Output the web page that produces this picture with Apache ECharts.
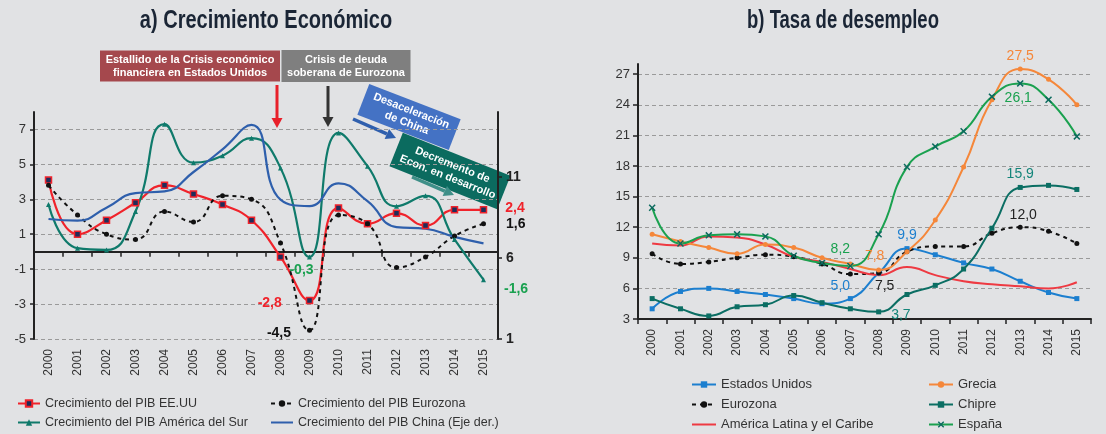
<!DOCTYPE html>
<html>
<head>
<meta charset="utf-8">
<script src="https://cdn.jsdelivr.net/npm/echarts@6/dist/echarts.min.js"></script>
<style>
  html, body { margin: 0; padding: 0; background: #e1e2e4; }
  #main { width: 1106px; height: 434px; }
</style>
</head>
<body>
<div id="main"></div>
<script>
const years = ['2000', '2001', '2002', '2003', '2004', '2005', '2006', '2007',
  '2008', '2009', '2010', '2011', '2012', '2013', '2014', '2015']

// a) Crecimiento Económico (%)
const pibEEUU = [4.1, 1.0, 1.8, 2.8, 3.8, 3.3, 2.7, 1.8, -0.3, -2.8, 2.5, 1.6, 2.2, 1.5, 2.4, 2.4]
const pibEurozona = [3.8, 2.1, 1.0, 0.7, 2.3, 1.7, 3.2, 3.0, 0.5, -4.5, 2.1, 1.6, -0.9, -0.3, 0.9, 1.6]
const pibAmSur = [2.7, 0.2, 0.1, 2.3, 7.3, 5.1, 5.5, 6.5, 4.8, -0.3, 6.8, 4.9, 2.6, 3.2, 0.7, -1.6]
const pibChina = [8.4, 8.3, 9.1, 10.0, 10.1, 11.3, 12.7, 14.2, 9.6, 9.2, 10.6, 9.5, 7.9, 7.8, 7.3, 6.9]

// b) Tasa de desempleo (%)
const desEEUU = [4.0, 5.7, 6.0, 5.7, 5.4, 5.0, 4.5, 5.0, 7.5, 9.9, 9.3, 8.5, 7.9, 6.7, 5.6, 5.0]
const desEurozona = [9.4, 8.4, 8.6, 9.0, 9.3, 9.1, 8.4, 7.4, 7.5, 9.6, 10.1, 10.1, 11.4, 12.0, 11.6, 10.4]
const desAmLat = [10.4, 10.2, 11.1, 11.0, 10.3, 9.1, 8.6, 7.9, 7.3, 8.1, 7.3, 6.7, 6.4, 6.2, 6.0, 6.6]
const desGrecia = [11.3, 10.6, 10.0, 9.4, 10.3, 10.0, 9.0, 8.4, 7.8, 9.6, 12.7, 17.9, 24.5, 27.5, 26.5, 24.0]
const desChipre = [5.0, 4.0, 3.3, 4.2, 4.4, 5.3, 4.6, 4.0, 3.7, 5.4, 6.3, 7.9, 11.9, 15.9, 16.1, 15.7]
const desEspana = [13.9, 10.4, 11.2, 11.3, 11.1, 9.2, 8.5, 8.2, 11.3, 17.9, 19.9, 21.4, 24.8, 26.1, 24.5, 20.9]

const FONT = 'Liberation Sans, Arial, sans-serif'
const coma = p => Number(p.value).toFixed(1).replace('.', ',')

// pone etiqueta solo en los puntos indicados
const conEtiquetas = (valores, etiquetas) =>
  valores.map((v, i) => etiquetas[i] ? { value: v, label: Object.assign({ show: true }, etiquetas[i]) } : v)

const flecha = (x1, y1, x2, y2, color, w) => {
  const a = Math.atan2(y2 - y1, x2 - x1)
  const h = 10, s = 5.5
  const bx = x2 - h * Math.cos(a), by = y2 - h * Math.sin(a)
  return [
    { type: 'line', shape: { x1, y1, x2: bx, y2: by }, style: { stroke: color, lineWidth: w } },
    { type: 'polygon', shape: { points: [[x2, y2], [bx + s * Math.sin(a), by - s * Math.cos(a)], [bx - s * Math.sin(a), by + s * Math.cos(a)]] }, style: { fill: color } },
  ]
}

const caja = (x, y, w, h, rot, fill, text) => ({
  type: 'group', x, y, rotation: rot,
  children: [
    { type: 'rect', shape: { x: -w / 2, y: -h / 2, width: w, height: h }, style: { fill } },
    { type: 'text', style: { x: 0, y: 0, text, fill: '#fff', font: 'bold 11px ' + FONT, align: 'center', verticalAlign: 'middle', lineHeight: 13 } },
  ],
})

// titulo en letra estrecha (no hay fuente narrow instalada)
const titulo = (x, y, sx, text) => ({
  type: 'group', x, y, scaleX: sx,
  children: [
    { type: 'text', style: { x: 0, y: 0, text, fill: '#1a2535', font: 'bold 25px ' + FONT, align: 'center', verticalAlign: 'middle' } },
  ],
})

const gridLine = { show: true, lineStyle: { color: '#9a9a9a', type: [4, 3], width: 1 }, showMaxLine: false }
const axisTxt = { color: '#333', fontSize: 13, fontFamily: FONT }

const lblA = (color) => ({ show: false, formatter: coma, color, fontWeight: 'bold', fontSize: 14, fontFamily: FONT })
const lblB = (color) => ({ show: false, formatter: coma, color, fontSize: 14, fontFamily: FONT })

const xCross = 'path://M0,1.5L1.5,0L5,3.5L8.5,0L10,1.5L6.5,5L10,8.5L8.5,10L5,6.5L1.5,10L0,8.5L3.5,5Z'
const sinSimbolo = { opacity: 0 }

const myChart = echarts.init(document.getElementById('main'))
myChart.setOption({
  backgroundColor: '#e1e2e4',
  animation: false,
  textStyle: { fontFamily: FONT },
  grid: [
    { left: 34, right: 608, top: 112, bottom: 95 },
    { left: 638, right: 15, top: 64, bottom: 115 },
  ],
  legend: [
    { orient: 'vertical', left: 17, top: 397, itemWidth: 22, itemHeight: 8, itemGap: 6, padding: 0,
      textStyle: { color: '#333', fontSize: 12.5 },
      data: ['Crecimiento del PIB EE.UU', 'Crecimiento del PIB América del Sur'] },
    { orient: 'vertical', left: 270, top: 397, itemWidth: 22, itemHeight: 8, itemGap: 6, padding: 0,
      textStyle: { color: '#333', fontSize: 12.5 },
      data: ['Crecimiento del PIB Eurozona', { name: 'Crecimiento del PIB China (Eje der.)', itemStyle: sinSimbolo }] },
    { orient: 'vertical', left: 691, top: 378, itemWidth: 24, itemHeight: 8, itemGap: 7, padding: 0,
      textStyle: { color: '#333', fontSize: 13 },
      data: ['Estados Unidos', 'Eurozona', { name: 'América Latina y el Caribe', itemStyle: sinSimbolo }] },
    { orient: 'vertical', left: 928, top: 378, itemWidth: 24, itemHeight: 8, itemGap: 7, padding: 0,
      textStyle: { color: '#333', fontSize: 13 },
      data: ['Grecia', 'Chipre', 'España'] },
  ],
  xAxis: [
    { type: 'category', gridIndex: 0, data: years,
      axisLine: { onZero: true, onZeroAxisIndex: 0, lineStyle: { color: '#222', width: 2 } },
      axisTick: { show: true, interval: 0, length: 5, lineStyle: { color: '#222', width: 1.5 } },
      axisLabel: { show: false } },
    { type: 'category', gridIndex: 0, position: 'bottom', data: years,
      axisLine: { show: false, onZero: false }, axisTick: { show: false },
      axisLabel: Object.assign({ rotate: 90, interval: 0, margin: 10 }, axisTxt, { fontSize: 12 }) },
    { type: 'category', gridIndex: 1, data: years,
      axisLine: { lineStyle: { color: '#222', width: 2 } },
      axisTick: { show: true, interval: 0, length: 5, lineStyle: { color: '#222', width: 1.5 } },
      axisLabel: Object.assign({ rotate: 90, interval: 0, margin: 10 }, axisTxt, { fontSize: 12 }) },
  ],
  yAxis: [
    { type: 'value', gridIndex: 0, min: -5, max: 8, interval: 2,
      axisLine: { show: true, lineStyle: { color: '#222', width: 2 } },
      axisTick: { show: true, length: 4, lineStyle: { color: '#222', width: 1.5 } },
      axisLabel: Object.assign({ showMaxLabel: false, margin: 8 }, axisTxt),
      splitLine: gridLine },
    { type: 'value', gridIndex: 0, position: 'right', min: 1, max: 15, interval: 5,
      axisLine: { show: true, lineStyle: { color: '#222', width: 2 } },
      axisTick: { show: true, length: 4, lineStyle: { color: '#222', width: 1.5 } },
      axisLabel: { showMaxLabel: false, margin: 8, color: '#222', fontSize: 14, fontWeight: 'bold', fontFamily: FONT },
      splitLine: { show: false } },
    { type: 'value', gridIndex: 1, min: 3, max: 28, interval: 3,
      axisLine: { show: true, lineStyle: { color: '#222', width: 2 } },
      axisTick: { show: true, length: 5, lineStyle: { color: '#222', width: 1.5 } },
      axisLabel: Object.assign({ showMaxLabel: false, margin: 8 }, axisTxt),
      splitLine: gridLine },
  ],
  series: [
    // ---- a) ----
    { name: 'Crecimiento del PIB EE.UU', type: 'line', smooth: true, xAxisIndex: 0, yAxisIndex: 0,
      symbol: 'rect', symbolSize: 6,
      lineStyle: { color: '#f0232b', width: 2.2 },
      itemStyle: { color: '#1f2d5a', borderColor: '#f0232b', borderWidth: 1.5 },
      label: lblA('#f0232b'),
      data: conEtiquetas(pibEEUU, {
        9: { position: 'left', distance: 24, offset: [0, 3] },
        15: { position: 'right', distance: 18, offset: [0, -2] },
      }) },
    { name: 'Crecimiento del PIB Eurozona', type: 'line', smooth: true, xAxisIndex: 0, yAxisIndex: 0,
      symbol: 'circle', symbolSize: 5,
      lineStyle: { color: '#111', width: 2, type: [4, 4] },
      itemStyle: { color: '#111' },
      label: lblA('#111'),
      data: conEtiquetas(pibEurozona, {
        9: { position: 'left', distance: 16, offset: [0, 3] },
        15: { position: 'right', distance: 20 },
      }) },
    { name: 'Crecimiento del PIB América del Sur', type: 'line', smooth: true, xAxisIndex: 0, yAxisIndex: 0,
      symbol: 'triangle', symbolSize: 5,
      lineStyle: { color: '#0f7a6b', width: 2.2 },
      itemStyle: { color: '#0f7a6b' },
      label: lblA('#1aa150'),
      data: conEtiquetas(pibAmSur, {
        9: { position: 'bottom', distance: 4, offset: [-8, 0] },
        15: { position: 'right', distance: 18, offset: [0, 10] },
      }) },
    { name: 'Crecimiento del PIB China (Eje der.)', type: 'line', smooth: true, xAxisIndex: 0, yAxisIndex: 1,
      symbol: 'none',
      lineStyle: { color: '#2e5fac', width: 2.2 },
      itemStyle: { color: '#2e5fac' },
      label: lblA('#2e5fac'),
      data: conEtiquetas(pibChina, {
        7: { position: 'top', distance: 5, offset: [-8, 0] },
        10: { position: 'top', distance: 4, offset: [8, 0] },
        15: { position: 'right', distance: 20 },
      }) },
    // ---- b) ----
    { name: 'Estados Unidos', type: 'line', smooth: true, xAxisIndex: 2, yAxisIndex: 2,
      symbol: 'rect', symbolSize: 5,
      lineStyle: { color: '#1c7fcf', width: 2 },
      itemStyle: { color: '#1c7fcf' },
      label: lblB('#1c7fcf'),
      data: conEtiquetas(desEEUU, {
        7: { position: 'top', distance: 3, offset: [-10, 0] },
        9: { position: 'top', distance: 4 },
      }) },
    { name: 'Eurozona', type: 'line', smooth: true, xAxisIndex: 2, yAxisIndex: 2,
      symbol: 'circle', symbolSize: 5,
      lineStyle: { color: '#111', width: 2, type: [4, 4] },
      itemStyle: { color: '#111' },
      label: lblB('#222'),
      data: conEtiquetas(desEurozona, {
        8: { position: 'bottom', distance: 4, offset: [6, 0] },
        13: { position: 'top', distance: 3, offset: [3, 0] },
      }) },
    { name: 'América Latina y el Caribe', type: 'line', smooth: true, xAxisIndex: 2, yAxisIndex: 2,
      symbol: 'none',
      lineStyle: { color: '#ee3a42', width: 2 },
      itemStyle: { color: '#ee3a42' },
      label: lblB('#ee3a42'),
      data: conEtiquetas(desAmLat, {
        14: { position: 'bottom', distance: 6, offset: [-5, 0] },
        15: { position: 'right', distance: 8 },
      }) },
    { name: 'Grecia', type: 'line', smooth: true, xAxisIndex: 2, yAxisIndex: 2,
      symbol: 'circle', symbolSize: 5,
      lineStyle: { color: '#f5873a', width: 2 },
      itemStyle: { color: '#f5873a' },
      label: lblB('#f5873a'),
      data: conEtiquetas(desGrecia, {
        8: { position: 'top', distance: 4, offset: [-4, 0] },
        13: { position: 'top', distance: 3 },
      }) },
    { name: 'Chipre', type: 'line', smooth: true, xAxisIndex: 2, yAxisIndex: 2,
      symbol: 'rect', symbolSize: 5,
      lineStyle: { color: '#0b6e63', width: 2 },
      itemStyle: { color: '#0b6e63' },
      label: lblB('#13857a'),
      data: conEtiquetas(desChipre, {
        8: { position: 'right', distance: 10, offset: [0, 3] },
        13: { position: 'top', distance: 4 },
      }) },
    { name: 'España', type: 'line', smooth: true, xAxisIndex: 2, yAxisIndex: 2,
      symbol: xCross, symbolSize: 7,
      lineStyle: { color: '#1aa14f', width: 2 },
      itemStyle: { color: '#0b6a5e' },
      label: lblB('#1aa14f'),
      data: conEtiquetas(desEspana, {
        7: { position: 'top', distance: 6, offset: [-10, 0] },
        13: { position: 'bottom', distance: 4, offset: [-2, 0] },
      }) },
  ],
  graphic: [
    titulo(266, 21, 0.8, 'a) Crecimiento Económico'),
    titulo(843, 21, 0.74, 'b) Tasa de desempleo'),
    caja(190, 66, 180, 31, 0, '#a5484d', 'Estallido de la Crisis económico\nfinanciera en Estados Unidos'),
    caja(346, 66, 129, 32, 0, '#7f7f7f', 'Crisis de deuda\nsoberana de Eurozona'),
    ...flecha(277, 85, 277, 128, '#e8202a', 3),
    ...flecha(328, 86, 328, 127, '#333333', 3),
    caja(409, 117, 98, 33, -0.37, '#4472c4', 'Desaceleración\nde China'),
    ...flecha(353, 119, 396, 138, '#2f5fad', 3.5),
    caja(450, 171, 116, 36, -0.38, '#0b6b5f', 'Decremento de\nEcon. en desarrollo'),
    ...flecha(412, 177, 454, 195, '#3f8f88', 3.5),
  ],
})
</script>
</body>
</html>
